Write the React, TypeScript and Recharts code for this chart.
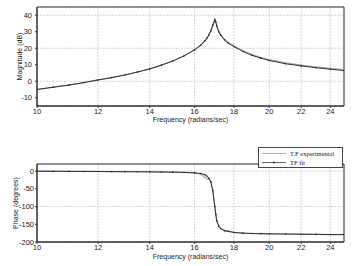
import { CartesianGrid, Legend, Line, LineChart, ReferenceArea, XAxis, YAxis } from "recharts";

const freq = [10, 10.5, 11, 11.5, 12, 12.5, 13, 13.5, 14, 14.5, 15, 15.5, 16, 16.3, 16.5, 16.6, 16.7, 16.8, 16.9, 17.0, 17.05, 17.1, 17.2, 17.3, 17.5, 17.7, 18, 18.5, 19, 19.5, 20, 21, 22, 23, 24, 25];

const magFit = [-5, -3.6, -2.3, -0.8, 0.8, 2.2, 3.8, 5.6, 7.5, 9.8, 12.3, 15.3, 19, 21.8, 24.5, 26, 28, 30.5, 34, 37.5, 36, 33.5, 30, 28, 25, 23, 21, 18, 15.7, 14, 12.6, 10.6, 9.3, 8.2, 7.3, 6.5];
const magExp = [-5, -3.6, -2.3, -0.8, 0.8, 2.2, 3.8, 5.6, 7.5, 9.8, 12.3, 15.3, 19, 21.8, 24.5, 26, 28, 30.5, 33.8, 37, 35.8, 33.6, 30.3, 28.4, 25.5, 23.5, 21.5, 18.5, 16.2, 14.5, 13.1, 11.1, 9.8, 8.7, 7.8, 7];

const phaseFit = [-0.5, -0.7, -0.8, -1, -1.2, -1.4, -1.6, -1.9, -2.2, -2.6, -3, -3.8, -5, -7, -10, -14, -20, -30, -55, -100, -122, -140, -155, -162, -168, -170, -173, -175, -176, -176.5, -177, -177.5, -178, -178.5, -179, -179];
const phaseExp = [0.5, 0, -0.5, -1, -1.2, -1.4, -1.6, -1.9, -2.2, -2.6, -3, -3.8, -5, -9, -18, -22, -23, -28, -55, -100, -122, -140, -155, -162, -168, -170, -173, -175, -176, -176.5, -177, -177.5, -178, -178.5, -179, -179];

const freqTicks = [10, 12, 14, 16, 18, 20, 22, 24];
const magTicks = [-10, 0, 10, 20, 30, 40];
const phaseTicks = [-200, -150, -100, -50, 0];

const magData = freq.map((f, i) => ({ f, exp: magExp[i], fit: magFit[i] }));
const phaseData = freq.map((f, i) => ({ f, exp: phaseExp[i], fit: phaseFit[i] }));

const sans = "Arial, 'Liberation Sans', Helvetica, sans-serif";
const tickStyle = { fontSize: 7.5, fill: "#222", fontFamily: sans };

// axis title drawn as plain svg text so its colour stays dark
const xTitle = (dy: number) => (props: any) => {
  const vb = props.viewBox;
  return (
    <text x={vb.x + vb.width / 2} y={vb.y + dy} fill="#222" fontSize={7} fontFamily={sans} textAnchor="middle">
      Frequency (radians/sec)
    </text>
  );
};

const yTitle = (text: string, cx: number) => (props: any) => {
  const vb = props.viewBox;
  const cy = vb.y + vb.height / 2;
  return (
    <text x={cx} y={cy} fill="#222" fontSize={7} fontFamily={sans} textAnchor="middle" dominantBaseline="central" transform={`rotate(-90 ${cx} ${cy})`}>
      {text}
    </text>
  );
};

function LegendBox() {
  const row = (label: string, dot: boolean) => (
    <div style={{ display: "flex", alignItems: "center", height: 9 }}>
      <svg width={26} height={9} style={{ marginRight: 3 }}>
        <line x1={1} y1={4.5} x2={25} y2={4.5} stroke={dot ? "#444" : "#999"} strokeWidth={0.8} />
        {dot && <circle cx={13} cy={4.5} r={0.9} fill="#222" />}
      </svg>
      <span>{label}</span>
    </div>
  );
  return (
    <div
      style={{
        width: 85,
        height: 21,
        border: "1px solid #444",
        background: "#fff",
        fontFamily: "'Liberation Serif', 'DejaVu Serif', serif",
        fontSize: 6.5,
        color: "#222",
        padding: "1px 0 0 2px",
        boxSizing: "border-box",
        lineHeight: "9px",
      }}
    >
      {row("T.F experimental", false)}
      {row("TF fit", true)}
    </div>
  );
}

export default function App() {
  return (
    <div style={{ position: "fixed", left: 0, top: 0, width: 352, height: 266, background: "#fff" }}>
      <div style={{ position: "absolute", left: 0, top: 0 }}>
        <LineChart width={352} height={133} data={magData} margin={{ top: 7, right: 8, bottom: 0, left: 0 }}>
          <CartesianGrid stroke="#d4d4d4" strokeDasharray="2 1" />
          <XAxis
            dataKey="f"
            type="number"
            scale="log"
            domain={[10, 25]}
            ticks={freqTicks}
            allowDataOverflow
            height={27}
            tickSize={2}
            tickMargin={1}
            tick={tickStyle}
            stroke="#333"
            label={{ content: xTitle(16) }}
          />
          <YAxis
            type="number"
            domain={[-15, 45]}
            ticks={magTicks}
            allowDataOverflow
            width={37}
            tickSize={2}
            tickMargin={3}
            tick={tickStyle}
            stroke="#333"
            label={{ content: yTitle("Magnitude (dB)", 19) }}
          />
          <ReferenceArea x1={10} x2={25} y1={-15} y2={45} fill="none" stroke="#333" strokeWidth={1} ifOverflow="extendDomain" />
          <Line dataKey="exp" stroke="#aaa" strokeWidth={1.2} dot={false} isAnimationActive={false} />
          <Line dataKey="fit" stroke="#333" strokeWidth={1} dot={{ r: 0.8, fill: "#222", stroke: "none" }} isAnimationActive={false} />
        </LineChart>
      </div>
      <div style={{ position: "absolute", left: 0, top: 133 }}>
        <LineChart width={352} height={133} data={phaseData} margin={{ top: 10, right: 8, bottom: 0, left: 0 }}>
          <CartesianGrid stroke="#d4d4d4" strokeDasharray="2 1" />
          <XAxis
            dataKey="f"
            type="number"
            scale="log"
            domain={[10, 25]}
            ticks={freqTicks}
            allowDataOverflow
            height={24}
            tickSize={2}
            tickMargin={1}
            tick={tickStyle}
            stroke="#333"
            label={{ content: xTitle(17) }}
          />
          <YAxis
            type="number"
            domain={[-200, 20]}
            ticks={phaseTicks}
            allowDataOverflow
            width={37}
            tickSize={2}
            tickMargin={1}
            tick={tickStyle}
            stroke="#333"
            label={{ content: yTitle("Phase (degrees)", 15) }}
          />
          <ReferenceArea x1={10} x2={25} y1={-200} y2={20} fill="none" stroke="#333" strokeWidth={1} ifOverflow="extendDomain" />
          <Line dataKey="exp" stroke="#aaa" strokeWidth={1.2} dot={false} isAnimationActive={false} />
          <Line dataKey="fit" stroke="#333" strokeWidth={1} dot={{ r: 0.8, fill: "#222", stroke: "none" }} isAnimationActive={false} />
          <Legend
            verticalAlign="top"
            align="right"
            wrapperStyle={{ position: "absolute", left: 258, top: 14, width: 85 }}
            content={() => <LegendBox />}
          />
        </LineChart>
      </div>
    </div>
  );
}
